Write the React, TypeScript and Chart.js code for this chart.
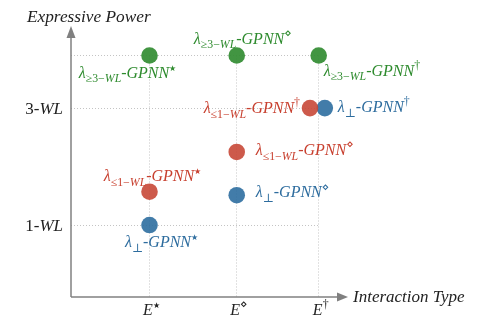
import React, { useEffect, useRef } from "react";
import { Chart, registerables } from "chart.js";

Chart.register(...registerables);

// ---- data ----
const xCategoryValues = [1, 2, 2.94];
const xTickBase = "E";
const xTickMarks = ["★", "⋄", "†"];
const yTickValues = [1, 3];
const yTickPrefixes = ["1-", "3-"];
const yTickSuffix = "WL";
const yTopValue = 3.9;
const xTitle = "Interaction Type";
const yTitle = "Expressive Power";

const greenX = [1, 2, 2.94];
const greenY = [3.9, 3.9, 3.9];
const redX = [1, 2, 2.84];
const redY = [1.57, 2.25, 3];
const blueX = [1, 2, 3.01];
const blueY = [1, 1.51, 3];

const greenSub = "≥3−";
const redSub = "≤1−";
const blueSub = "⊥";
const subSuffixGreen = "WL";
const subSuffixRed = "WL";
const subSuffixBlue = "";
const modelName = "GPNN";
const pointMarks = ["★", "⋄", "†"];

// ---- styles ----
const FONT = '"Liberation Serif", "DejaVu Serif", serif';
const GREEN = "rgba(50,140,50,0.92)";
const RED = "rgba(200,72,55,0.9)";
const BLUE = "rgba(45,110,160,0.9)";
const GREEN_T = "#2e8b2e";
const RED_T = "#c8402f";
const BLUE_T = "#2d6c9e";
const AXIS = "#808080";

type Seg = { t: string; it: boolean; r: "m" | "sub" | "sup" };
type Place = { dx: number; dy: number; align: "left" | "right" | "center" };

const greenPlace: Place[] = [
  { dx: -22, dy: 22, align: "center" },
  { dx: 6, dy: -12, align: "center" },
  { dx: 5, dy: 20, align: "left" },
];
const redPlace: Place[] = [
  { dx: 3, dy: -11, align: "center" },
  { dx: 19, dy: 3, align: "left" },
  { dx: -10, dy: 5, align: "right" },
];
const bluePlace: Place[] = [
  { dx: 12, dy: 22, align: "center" },
  { dx: 19, dy: 2, align: "left" },
  { dx: 13, dy: 4, align: "left" },
];

function font(size: number, italic: boolean) {
  return `${italic ? "italic " : ""}${size}px ${FONT}`;
}

function drawRich(
  ctx: CanvasRenderingContext2D,
  segs: Seg[],
  x: number,
  y: number,
  align: "left" | "right" | "center",
  size: number,
  color: string
) {
  const sizes = segs.map((s) => (s.r === "m" ? size : s.r === "sup" && s.t === "★" ? size * 0.5 : size * 0.74));
  const widths = segs.map((s, i) => {
    ctx.font = font(sizes[i], s.it);
    return ctx.measureText(s.t).width;
  });
  const total = widths.reduce((a, b) => a + b, 0);
  let cx = align === "left" ? x : align === "right" ? x - total : x - total / 2;
  ctx.fillStyle = color;
  ctx.textBaseline = "alphabetic";
  ctx.textAlign = "left";
  segs.forEach((s, i) => {
    const dy = s.r === "sub" ? size * 0.3 : s.r === "sup" ? -size * 0.42 : 0;
    ctx.font = font(sizes[i], s.it);
    ctx.fillText(s.t, cx, y + dy);
    cx += widths[i];
  });
}

function labelSegs(sub: string, subIt: string, mark: string): Seg[] {
  const segs: Seg[] = [{ t: "λ", it: true, r: "m" }, { t: sub, it: false, r: "sub" }];
  if (subIt) segs.push({ t: subIt, it: true, r: "sub" });
  segs.push({ t: "-", it: false, r: "m" });
  segs.push({ t: modelName, it: true, r: "m" });
  segs.push({ t: mark, it: false, r: "sup" });
  return segs;
}

const overlay = {
  id: "overlay",
  beforeDatasetsDraw(chart: any) {
    const ctx: CanvasRenderingContext2D = chart.ctx;
    const { left, bottom } = chart.chartArea;
    ctx.save();
    ctx.strokeStyle = AXIS;
    ctx.fillStyle = AXIS;
    ctx.lineWidth = 1.5;
    // y axis
    ctx.beginPath();
    ctx.moveTo(left, bottom);
    ctx.lineTo(left, 36);
    ctx.stroke();
    ctx.beginPath();
    ctx.moveTo(left, 26);
    ctx.lineTo(left - 4.5, 38);
    ctx.lineTo(left + 4.5, 38);
    ctx.closePath();
    ctx.fill();
    // x axis
    ctx.beginPath();
    ctx.moveTo(left, bottom);
    ctx.lineTo(340, bottom);
    ctx.stroke();
    ctx.beginPath();
    ctx.moveTo(348, bottom);
    ctx.lineTo(337, bottom - 4.5);
    ctx.lineTo(337, bottom + 4.5);
    ctx.closePath();
    ctx.fill();
    ctx.restore();
  },
  afterDatasetsDraw(chart: any) {
    const ctx: CanvasRenderingContext2D = chart.ctx;
    const xs = chart.scales.x;
    const ys = chart.scales.y;
    const { left, bottom } = chart.chartArea;
    ctx.save();
    // titles
    ctx.fillStyle = "#222";
    ctx.textBaseline = "alphabetic";
    ctx.textAlign = "left";
    ctx.font = font(17.3, true);
    ctx.fillText(yTitle, 27, 22);
    ctx.font = font(17, true);
    ctx.fillText(xTitle, 353, bottom + 5);
    // y ticks
    yTickValues.forEach((v, i) => {
      drawRich(
        ctx,
        [
          { t: yTickPrefixes[i], it: false, r: "m" },
          { t: yTickSuffix, it: true, r: "m" },
        ],
        left - 8,
        ys.getPixelForValue(v) + 6,
        "right",
        17,
        "#222"
      );
    });
    // x ticks
    xCategoryValues.forEach((v, i) => {
      drawRich(
        ctx,
        [
          { t: xTickBase, it: true, r: "m" },
          { t: xTickMarks[i], it: false, r: "sup" },
        ],
        xs.getPixelForValue(v) + 2,
        bottom + 18,
        "center",
        16,
        "#222"
      );
    });
    // point labels
    const series = [
      { xv: greenX, yv: greenY, sub: greenSub, subIt: subSuffixGreen, place: greenPlace, color: GREEN_T },
      { xv: redX, yv: redY, sub: redSub, subIt: subSuffixRed, place: redPlace, color: RED_T },
      { xv: blueX, yv: blueY, sub: blueSub, subIt: subSuffixBlue, place: bluePlace, color: BLUE_T },
    ];
    series.forEach((s) => {
      s.xv.forEach((xv, i) => {
        const px = xs.getPixelForValue(xv);
        const py = ys.getPixelForValue(s.yv[i]);
        const p = s.place[i];
        drawRich(ctx, labelSegs(s.sub, s.subIt, pointMarks[i]), px + p.dx, py + p.dy, p.align, 16, s.color);
      });
    });
    ctx.restore();
  },
};

export default function App() {
  const ref = useRef<HTMLCanvasElement>(null);
  useEffect(() => {
    if (!ref.current) return;
    const mk = (xv: number[], yv: number[]) => xv.map((x, i) => ({ x, y: yv[i] }));
    const chart = new Chart(ref.current, {
      type: "scatter",
      data: {
        datasets: [
          { data: mk(greenX, greenY), backgroundColor: GREEN, pointRadius: 8.3, borderWidth: 0, clip: false } as any,
          { data: mk(redX, redY), backgroundColor: RED, pointRadius: 8.3, borderWidth: 0, clip: false } as any,
          { data: mk(blueX, blueY), backgroundColor: BLUE, pointRadius: 8.3, borderWidth: 0, clip: false } as any,
        ],
      },
      options: {
        responsive: false,
        animation: false,
        events: [],
        layout: { padding: { left: 71, right: 166.3, top: 55.5, bottom: 34 } },
        plugins: { legend: { display: false }, tooltip: { enabled: false } },
        scales: {
          x: {
            type: "linear",
            min: 0.1,
            max: 2.94,
            afterBuildTicks: (s: any) => {
              s.ticks = xCategoryValues.map((v) => ({ value: v }));
            },
            afterFit: (s: any) => {
              s.height = 0;
            },
            ticks: { display: false },
            grid: { color: "#c4c4c4", lineWidth: 1, drawTicks: false },
            border: { display: false, dash: [1, 2] },
          },
          y: {
            type: "linear",
            min: -0.231,
            max: yTopValue,
            afterBuildTicks: (s: any) => {
              s.ticks = [...yTickValues, yTopValue].map((v) => ({ value: v }));
            },
            afterFit: (s: any) => {
              s.width = 0;
            },
            ticks: { display: false },
            grid: { color: "#c4c4c4", lineWidth: 1, drawTicks: false },
            border: { display: false, dash: [1, 2] },
          },
        },
      },
      plugins: [overlay],
    });
    return () => chart.destroy();
  }, []);
  return (
    <div style={{ position: "fixed", left: 0, top: 0, width: 485, height: 331, background: "#fff" }}>
      <canvas ref={ref} width={485} height={331} />
    </div>
  );
}
